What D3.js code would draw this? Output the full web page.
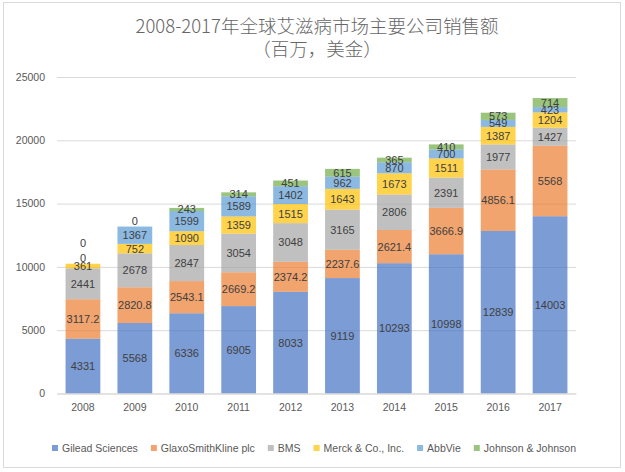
<!DOCTYPE html>
<html>
<head>
<meta charset="utf-8">
<script src="https://cdn.jsdelivr.net/npm/d3@7"></script>
<style>
  body { margin: 0; background: #fff; }
  text { font-family: "Liberation Sans", Arial, sans-serif; }
</style>
</head>
<body>
<div id="vis"></div>
<script>
var width = 625;
var height = 472;
// plot area
var margin = {top : 77, right : 49, bottom : 78.5, left : 57 };
var vg_width = width - margin.left - margin.right;
var vg_height = height - margin.top - margin.bottom;

// chart values
var years = ["2008","2009","2010","2011","2012","2013","2014","2015","2016","2017"];
var companies = ["Gilead Sciences","GlaxoSmithKline plc","BMS","Merck & Co., Inc.","AbbVie","Johnson & Johnson"];
var gilead = [4331, 5568, 6336, 6905, 8033, 9119, 10293, 10998, 12839, 14003];
var gsk    = [3117.2, 2820.8, 2543.1, 2669.2, 2374.2, 2237.6, 2621.4, 3666.9, 4856.1, 5568];
var bms    = [2441, 2678, 2847, 3054, 3048, 3165, 2806, 2391, 1977, 1427];
var merck  = [361, 752, 1090, 1359, 1515, 1643, 1673, 1511, 1387, 1204];
var abbvie = [0, 1367, 1599, 1589, 1402, 962, 870, 700, 549, 423];
var jnj    = [0, 0, 243, 314, 451, 615, 365, 410, 573, 714];
var yTicks = [0, 5000, 10000, 15000, 20000, 25000];
var titleLines = ["2008-2017年全球艾滋病市场主要公司销售额", "（百万，美金）"];

// excel palette, drawn with 30% transparency
function getColor(i){
    var color = ["#4472C4","#ED7D31","#A5A5A5","#FFC000","#5B9BD5","#70AD47"];
    return color[i];
}

// rows of {year, company: value}
function getData(){
    var series = [gilead, gsk, bms, merck, abbvie, jnj];
    return years.map(function(y, i){
        var row = {year : y};
        companies.forEach(function(c, k){ row[c] = series[k][i]; });
        return row;
    });
}

var data = getData();
var svg = d3.select('#vis').append('svg')
    .attr("width", width)
    .attr("height", height);

// chart border
svg.append("rect")
    .attr("x", 3.5).attr("y", 2.5)
    .attr("width", 617).attr("height", 465)
    .attr("fill", "#fff")
    .attr("stroke", "#d9d9d9");

// title
svg.append("g").selectAll("text")
    .data(titleLines)
    .enter().append("text")
    .attr("x", 317)
    .attr("y", function(d, i){ return 26 + i * 23; })
    .attr("dy", "0.36em")
    .attr("text-anchor", "middle")
    .style("font-family", "'Noto Sans CJK SC', 'Noto Sans', sans-serif")
    .style("font-size", "18.5px")
    .style("font-weight", 300)
    .attr("fill", "#666666")
    .text(function(d){ return d; });

var x_scale = d3.scaleBand().domain(years)
    .range([0, vg_width])
    .paddingInner(0.33).paddingOuter(0.165);
var y_scale = d3.scaleLinear().domain([0, 25000]).range([vg_height, 0]);

var vis = svg.append("g")
    .attr("transform", "translate(" + margin.left + "," + margin.top + ")");

// gridlines
var Y = d3.axisLeft(y_scale).tickValues(yTicks).tickFormat(d3.format("d"))
    .tickSize(-vg_width).tickPadding(12);
vis.append("g").attr("class", "y axis")
    .call(Y)
    .call(function(g){
        g.select(".domain").remove();
        g.selectAll("line").attr("stroke", "#d9d9d9");
        g.selectAll("text").attr("fill", "#595959").style("font-size", "10.5px");
    });

var stack = d3.stack().keys(companies);
var layers = stack(data);

var groups = vis.append("g").selectAll("g")
    .data(layers)
    .enter().append("g")
    .attr("fill", function(d, i){ return getColor(i); })
    .attr("fill-opacity", 0.7);

groups.selectAll("rect")
    .data(function(d){ return d; })
    .enter().append("rect")
    .attr("x", function(d){ return x_scale(d.data.year); })
    .attr("width", x_scale.bandwidth())
    .attr("y", function(d){ return y_scale(d[1]); })
    .attr("height", function(d){ return y_scale(d[0]) - y_scale(d[1]); });

// x axis
var X = d3.axisBottom(x_scale).tickSize(0).tickPadding(10);
vis.append("g").attr("class", "x axis")
    .attr("transform", "translate(0," + vg_height + ")")
    .call(X)
    .call(function(g){
        g.select(".domain").attr("stroke", "#d9d9d9");
        g.selectAll("text").attr("fill", "#595959").style("font-size", "10.5px");
    });

// data labels, zero values get pushed above the stack like excel does
var labels = [];
years.forEach(function(y, i){
    var zeros = 0;
    var top = y_scale(layers[layers.length - 1][i][1]);
    layers.forEach(function(layer){
        var v = layer[i].data[layer.key];
        var cy;
        if (v === 0){
            cy = top - 6 - 15 * zeros;
            zeros++;
        } else {
            cy = (y_scale(layer[i][0]) + y_scale(layer[i][1])) / 2;
        }
        labels.push({x : x_scale(y) + x_scale.bandwidth() / 2, y : cy, v : v});
    });
});
vis.append("g").selectAll("text")
    .data(labels)
    .enter().append("text")
    .attr("x", function(d){ return d.x; })
    .attr("y", function(d){ return d.y; })
    .attr("dy", "0.36em")
    .attr("text-anchor", "middle")
    .attr("fill", "#404040")
    .style("font-size", "11px")
    .text(function(d){ return d.v; });

// legend
var legend = svg.append("g");
var items = legend.selectAll("g")
    .data(companies)
    .enter().append("g");
items.append("rect")
    .attr("width", 6).attr("height", 6)
    .attr("y", 445)
    .attr("fill", function(d, i){ return getColor(i); })
    .attr("fill-opacity", 0.7);
items.append("text")
    .attr("x", 10).attr("y", 448)
    .attr("dy", "0.36em")
    .attr("fill", "#595959")
    .style("font-size", "10.5px")
    .text(function(d){ return d; });
var offs = [];
var pos = 0;
items.each(function(){
    offs.push(pos);
    pos += 10 + d3.select(this).select("text").node().getComputedTextLength() + 13;
});
var total = pos - 13;
var start = 314 - total / 2;
items.attr("transform", function(d, i){ return "translate(" + (start + offs[i]) + ",0)"; });
</script>
</body>
</html>
